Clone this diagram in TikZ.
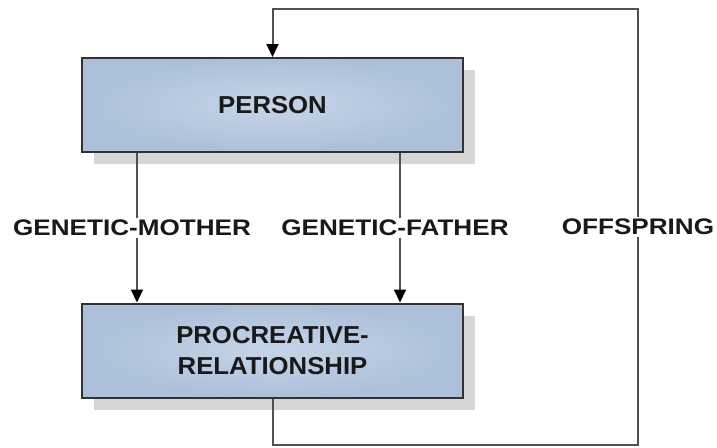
\documentclass[tikz,border=0pt]{standalone}
\usepackage{fontspec}
\setmainfont{Liberation Sans}
\newfontfamily\boxfont[FakeStretch=1.05]{Liberation Sans}
\newfontfamily\relfont[FakeStretch=1.16]{Liberation Sans}
\usetikzlibrary{arrows.meta, shadows}
\definecolor{entityin}{RGB}{198,212,231}
\definecolor{entityout}{RGB}{172,192,218}
\definecolor{linkgray}{RGB}{80,80,80}

\begin{document}
\begin{tikzpicture}[x=1pt, y=-1pt,
    entity/.style={draw=black!80, line width=2pt, inner color=entityin, outer color=entityout,
      minimum width=381pt, minimum height=94pt, align=center, text=black!90,
      font=\boxfont\bfseries\fontsize{24.5}{31}\selectfont,
      drop shadow={shadow xshift=12pt, shadow yshift=-12pt, fill=black!16, opacity=1}},
    rel/.style={fill=white, inner sep=2pt, text=black!90,
      font=\relfont\bfseries\fontsize{22.5}{27}\selectfont},
    link/.style={draw=linkgray, line width=2pt},
    linkarrow/.style={link, -{Triangle[width=12pt, length=13pt, color=black]}}]
    \useasboundingbox (0,0) rectangle (717,447);
    % Entities
    \node[entity] (person) at (272.5,105) {PERSON};
    \node[entity] (procreative) at (272.5,350.5) {PROCREATIVE-\\RELATIONSHIP};
    % Parent links
    \draw[linkarrow] ([xshift=-135.5pt]person.south) -- node[rel, xshift=-5pt] (mother) {GENETIC-MOTHER} ([xshift=-135.5pt]procreative.north);
    \draw[linkarrow] ([xshift=127.5pt]person.south) -- node[rel, xshift=-5pt] (father) {GENETIC-FATHER} ([xshift=127.5pt]procreative.north);
    % Offspring loop
    \coordinate (loopbottom) at (638,445);
    \coordinate (looptop) at (638,9);
    \draw[linkarrow] (procreative.south) |- (loopbottom) -- node[rel] (offspring) {OFFSPRING} (looptop) -| (person.north);
\end{tikzpicture}
\end{document}
